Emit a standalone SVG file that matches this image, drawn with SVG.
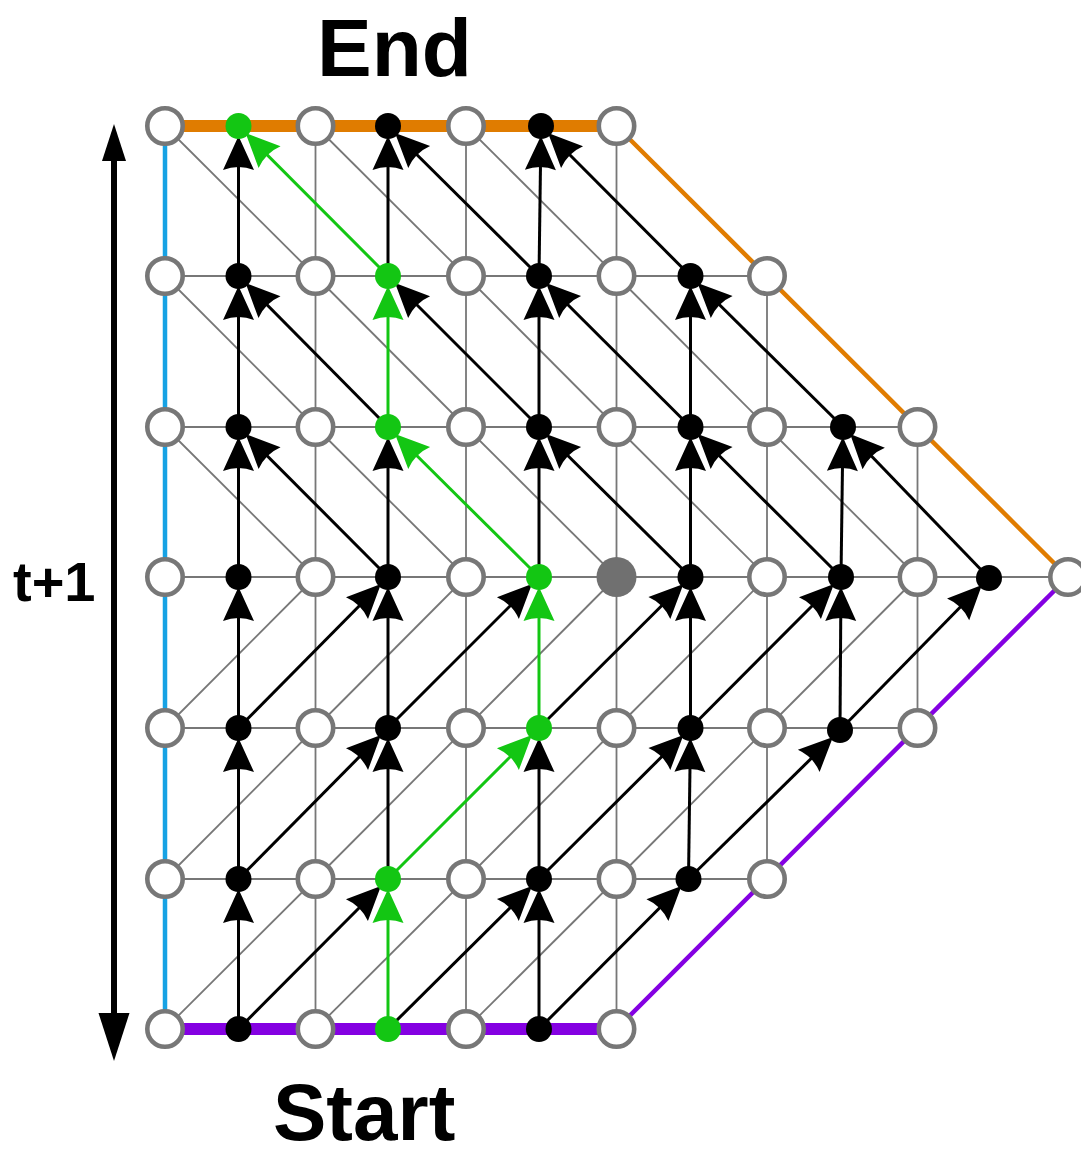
<svg xmlns="http://www.w3.org/2000/svg" width="1081" height="1158" viewBox="0 0 1081 1158">
<style>
.gr{stroke:#777;stroke-width:1.8;fill:none}
.a{stroke:#000;stroke-width:3;fill:none;marker-end:url(#ah)}
.ag{stroke:#13c613;stroke-width:3;fill:none;marker-end:url(#ahg)}
.o{fill:#fff;stroke:#777;stroke-width:4.6}
.b{fill:#000}
.gn{fill:#13c613}
.gy{fill:#707070}
.t{font-family:"Liberation Sans",Arial,sans-serif;font-weight:bold;fill:#000}
</style>
<defs>
<marker id="ah" viewBox="-32 -18 42 36" refX="0" refY="0" markerWidth="42" markerHeight="36" markerUnits="userSpaceOnUse" orient="auto" overflow="visible">
<path d="M-28,-15.5 L6,0 L-28,15.5" fill="none" stroke="#fff" stroke-width="3" stroke-linejoin="round"/>
<path d="M6,0 L-28,-15.5 Q-22,0 -28,15.5 Z" fill="#000"/>
</marker>
<marker id="ahg" viewBox="-32 -18 42 36" refX="0" refY="0" markerWidth="42" markerHeight="36" markerUnits="userSpaceOnUse" orient="auto" overflow="visible">
<path d="M-28,-15.5 L6,0 L-28,15.5" fill="none" stroke="#fff" stroke-width="3" stroke-linejoin="round"/>
<path d="M6,0 L-28,-15.5 Q-22,0 -28,15.5 Z" fill="#13c613"/>
</marker>
</defs>
<rect width="1081" height="1158" fill="#fff"/>

<g id="grid">
<line class="gr" x1="165" y1="276" x2="767" y2="276"/>
<line class="gr" x1="165" y1="427" x2="917.5" y2="427"/>
<line class="gr" x1="165" y1="577" x2="1068" y2="577"/>
<line class="gr" x1="165" y1="728" x2="917.5" y2="728"/>
<line class="gr" x1="165" y1="879" x2="767" y2="879"/>
<line class="gr" x1="315.5" y1="126" x2="315.5" y2="1029"/>
<line class="gr" x1="466" y1="126" x2="466" y2="1029"/>
<line class="gr" x1="616.5" y1="126" x2="616.5" y2="1029"/>
<line class="gr" x1="767" y1="276" x2="767" y2="879"/>
<line class="gr" x1="917.5" y1="427" x2="917.5" y2="728"/>
<line class="gr" x1="165" y1="126" x2="315.5" y2="276"/>
<line class="gr" x1="315.5" y1="126" x2="466" y2="276"/>
<line class="gr" x1="466" y1="126" x2="616.5" y2="276"/>
<line class="gr" x1="165" y1="276" x2="315.5" y2="427"/>
<line class="gr" x1="315.5" y1="276" x2="466" y2="427"/>
<line class="gr" x1="466" y1="276" x2="616.5" y2="427"/>
<line class="gr" x1="616.5" y1="276" x2="767" y2="427"/>
<line class="gr" x1="165" y1="427" x2="315.5" y2="577"/>
<line class="gr" x1="315.5" y1="427" x2="466" y2="577"/>
<line class="gr" x1="466" y1="427" x2="616.5" y2="577"/>
<line class="gr" x1="616.5" y1="427" x2="767" y2="577"/>
<line class="gr" x1="767" y1="427" x2="917.5" y2="577"/>
<line class="gr" x1="165" y1="728" x2="315.5" y2="577"/>
<line class="gr" x1="315.5" y1="728" x2="466" y2="577"/>
<line class="gr" x1="466" y1="728" x2="616.5" y2="577"/>
<line class="gr" x1="616.5" y1="728" x2="767" y2="577"/>
<line class="gr" x1="767" y1="728" x2="917.5" y2="577"/>
<line class="gr" x1="165" y1="879" x2="315.5" y2="728"/>
<line class="gr" x1="315.5" y1="879" x2="466" y2="728"/>
<line class="gr" x1="466" y1="879" x2="616.5" y2="728"/>
<line class="gr" x1="616.5" y1="879" x2="767" y2="728"/>
<line class="gr" x1="165" y1="1029" x2="315.5" y2="879"/>
<line class="gr" x1="315.5" y1="1029" x2="466" y2="879"/>
<line class="gr" x1="466" y1="1029" x2="616.5" y2="879"/>
</g>

<g id="boundaries">
<line x1="165" y1="126" x2="165" y2="1029" stroke="#16a2e4" stroke-width="4.5"/>
<line x1="165" y1="126" x2="616.5" y2="126" stroke="#e07c00" stroke-width="12"/>
<line x1="616.5" y1="126" x2="1068" y2="577" stroke="#e07c00" stroke-width="4.5"/>
<line x1="165" y1="1029" x2="616.5" y2="1029" stroke="#8400e2" stroke-width="12"/>
<line x1="616.5" y1="1029" x2="1068" y2="577" stroke="#8400e2" stroke-width="4.5"/>
</g>

<g id="connectors">
<line class="a" x1="238.5" y1="276" x2="238.5" y2="142"/>
<line class="a" x1="388" y1="276" x2="388" y2="142"/>
<line class="a" x1="539" y1="276" x2="540.8" y2="142"/>
<line class="a" x1="238.5" y1="427" x2="238.5" y2="292"/>
<line class="a" x1="539" y1="427" x2="539" y2="292"/>
<line class="a" x1="690.5" y1="427" x2="690.5" y2="292"/>
<line class="a" x1="238.5" y1="577" x2="238.5" y2="443"/>
<line class="a" x1="388" y1="577" x2="388" y2="443"/>
<line class="a" x1="539" y1="577" x2="539" y2="443"/>
<line class="a" x1="690.5" y1="577" x2="690.5" y2="443"/>
<line class="a" x1="841" y1="577" x2="842.8" y2="443"/>
<line class="a" x1="238.5" y1="728" x2="238.5" y2="593"/>
<line class="a" x1="388" y1="728" x2="388" y2="593"/>
<line class="a" x1="690.5" y1="728" x2="690.5" y2="593"/>
<line class="a" x1="840" y1="730" x2="840.9" y2="593"/>
<line class="a" x1="238.5" y1="879" x2="238.5" y2="744"/>
<line class="a" x1="388" y1="879" x2="388" y2="744"/>
<line class="a" x1="539" y1="879" x2="539" y2="744"/>
<line class="a" x1="688.5" y1="879" x2="690.3" y2="744"/>
<line class="a" x1="238.5" y1="1029" x2="238.5" y2="895"/>
<line class="a" x1="539" y1="1029" x2="539" y2="895"/>
<line class="a" x1="539" y1="276" x2="399.3" y2="137.3"/>
<line class="a" x1="690.5" y1="276" x2="552.3" y2="137.3"/>
<line class="a" x1="388" y1="427" x2="249.8" y2="287.3"/>
<line class="a" x1="539" y1="427" x2="399.3" y2="287.3"/>
<line class="a" x1="690.5" y1="427" x2="550.3" y2="287.3"/>
<line class="a" x1="843" y1="427" x2="701.8" y2="287.3"/>
<line class="a" x1="388" y1="577" x2="249.8" y2="438.3"/>
<line class="a" x1="690.5" y1="577" x2="550.3" y2="438.3"/>
<line class="a" x1="841" y1="577" x2="701.8" y2="438.3"/>
<line class="a" x1="989" y1="578" x2="854.3" y2="438.3"/>
<line class="a" x1="238.5" y1="728" x2="376.7" y2="588.3"/>
<line class="a" x1="388" y1="728" x2="527.7" y2="588.3"/>
<line class="a" x1="539" y1="728" x2="679.2" y2="588.3"/>
<line class="a" x1="690.5" y1="728" x2="829.7" y2="588.3"/>
<line class="a" x1="840" y1="730" x2="977.7" y2="589.3"/>
<line class="a" x1="238.5" y1="879" x2="376.7" y2="739.3"/>
<line class="a" x1="539" y1="879" x2="679.2" y2="739.3"/>
<line class="a" x1="688.5" y1="879" x2="828.7" y2="741.3"/>
<line class="a" x1="238.5" y1="1029" x2="376.7" y2="890.3"/>
<line class="a" x1="388" y1="1029" x2="527.7" y2="890.3"/>
<line class="a" x1="539" y1="1029" x2="677.2" y2="890.3"/>
<line class="ag" x1="388" y1="1029" x2="388" y2="895"/>
<line class="ag" x1="388" y1="879" x2="527.7" y2="739.3"/>
<line class="ag" x1="539" y1="728" x2="539" y2="593"/>
<line class="ag" x1="539" y1="577" x2="399.3" y2="438.3"/>
<line class="ag" x1="388" y1="427" x2="388" y2="292"/>
<line class="ag" x1="388" y1="276" x2="249.8" y2="137.3"/>
</g>

<g id="time-axis">
<line x1="114" y1="158" x2="114" y2="1016" stroke="#000" stroke-width="6"/>
<polygon points="114,124 126,161 102,161" fill="#000"/>
<polygon points="114,1061 129.5,1013 98.5,1013" fill="#000"/>
</g>

<g id="nodes">
<g id="n-r0c0"><circle class="o" cx="165" cy="126" r="17.7"/></g>
<g id="n-r0c1"><circle class="gn" cx="238.5" cy="126" r="13"/></g>
<g id="n-r0c2"><circle class="o" cx="315.5" cy="126" r="17.7"/></g>
<g id="n-r0c3"><circle class="b" cx="388" cy="126" r="13"/></g>
<g id="n-r0c4"><circle class="o" cx="466" cy="126" r="17.7"/></g>
<g id="n-r0c5"><circle class="b" cx="541" cy="126" r="13"/></g>
<g id="n-r0c6"><circle class="o" cx="616.5" cy="126" r="17.7"/></g>

<g id="n-r1c0"><circle class="o" cx="165" cy="276" r="17.7"/></g>
<g id="n-r1c1"><circle class="b" cx="238.5" cy="276" r="13"/></g>
<g id="n-r1c2"><circle class="o" cx="315.5" cy="276" r="17.7"/></g>
<g id="n-r1c3"><circle class="gn" cx="388" cy="276" r="13"/></g>
<g id="n-r1c4"><circle class="o" cx="466" cy="276" r="17.7"/></g>
<g id="n-r1c5"><circle class="b" cx="539" cy="276" r="13"/></g>
<g id="n-r1c6"><circle class="o" cx="616.5" cy="276" r="17.7"/></g>
<g id="n-r1c7"><circle class="b" cx="690.5" cy="276" r="13"/></g>
<g id="n-r1c8"><circle class="o" cx="767" cy="276" r="17.7"/></g>

<g id="n-r2c0"><circle class="o" cx="165" cy="427" r="17.7"/></g>
<g id="n-r2c1"><circle class="b" cx="238.5" cy="427" r="13"/></g>
<g id="n-r2c2"><circle class="o" cx="315.5" cy="427" r="17.7"/></g>
<g id="n-r2c3"><circle class="gn" cx="388" cy="427" r="13"/></g>
<g id="n-r2c4"><circle class="o" cx="466" cy="427" r="17.7"/></g>
<g id="n-r2c5"><circle class="b" cx="539" cy="427" r="13"/></g>
<g id="n-r2c6"><circle class="o" cx="616.5" cy="427" r="17.7"/></g>
<g id="n-r2c7"><circle class="b" cx="690.5" cy="427" r="13"/></g>
<g id="n-r2c8"><circle class="o" cx="767" cy="427" r="17.7"/></g>
<g id="n-r2c9"><circle class="b" cx="843" cy="427" r="13"/></g>
<g id="n-r2c10"><circle class="o" cx="917.5" cy="427" r="17.7"/></g>

<g id="n-r3c0"><circle class="o" cx="165" cy="577" r="17.7"/></g>
<g id="n-r3c1"><circle class="b" cx="238.5" cy="577" r="13"/></g>
<g id="n-r3c2"><circle class="o" cx="315.5" cy="577" r="17.7"/></g>
<g id="n-r3c3"><circle class="b" cx="388" cy="577" r="13"/></g>
<g id="n-r3c4"><circle class="o" cx="466" cy="577" r="17.7"/></g>
<g id="n-r3c5"><circle class="gn" cx="539" cy="577" r="13"/></g>
<g id="n-r3c6"><circle class="gy" cx="616.5" cy="577" r="20"/></g>
<g id="n-r3c7"><circle class="b" cx="690.5" cy="577" r="13"/></g>
<g id="n-r3c8"><circle class="o" cx="767" cy="577" r="17.7"/></g>
<g id="n-r3c9"><circle class="b" cx="841" cy="577" r="13"/></g>
<g id="n-r3c10"><circle class="o" cx="917.5" cy="577" r="17.7"/></g>
<g id="n-r3c11"><circle class="b" cx="989" cy="578" r="13"/></g>
<g id="n-r3c12"><circle class="o" cx="1068" cy="577" r="17.7"/></g>

<g id="n-r4c0"><circle class="o" cx="165" cy="728" r="17.7"/></g>
<g id="n-r4c1"><circle class="b" cx="238.5" cy="728" r="13"/></g>
<g id="n-r4c2"><circle class="o" cx="315.5" cy="728" r="17.7"/></g>
<g id="n-r4c3"><circle class="b" cx="388" cy="728" r="13"/></g>
<g id="n-r4c4"><circle class="o" cx="466" cy="728" r="17.7"/></g>
<g id="n-r4c5"><circle class="gn" cx="539" cy="728" r="13"/></g>
<g id="n-r4c6"><circle class="o" cx="616.5" cy="728" r="17.7"/></g>
<g id="n-r4c7"><circle class="b" cx="690.5" cy="728" r="13"/></g>
<g id="n-r4c8"><circle class="o" cx="767" cy="728" r="17.7"/></g>
<g id="n-r4c9"><circle class="b" cx="840" cy="730" r="13"/></g>
<g id="n-r4c10"><circle class="o" cx="917.5" cy="728" r="17.7"/></g>

<g id="n-r5c0"><circle class="o" cx="165" cy="879" r="17.7"/></g>
<g id="n-r5c1"><circle class="b" cx="238.5" cy="879" r="13"/></g>
<g id="n-r5c2"><circle class="o" cx="315.5" cy="879" r="17.7"/></g>
<g id="n-r5c3"><circle class="gn" cx="388" cy="879" r="13"/></g>
<g id="n-r5c4"><circle class="o" cx="466" cy="879" r="17.7"/></g>
<g id="n-r5c5"><circle class="b" cx="539" cy="879" r="13"/></g>
<g id="n-r5c6"><circle class="o" cx="616.5" cy="879" r="17.7"/></g>
<g id="n-r5c7"><circle class="b" cx="688.5" cy="879" r="13"/></g>
<g id="n-r5c8"><circle class="o" cx="767" cy="879" r="17.7"/></g>

<g id="n-r6c0"><circle class="o" cx="165" cy="1029" r="17.7"/></g>
<g id="n-r6c1"><circle class="b" cx="238.5" cy="1029" r="13"/></g>
<g id="n-r6c2"><circle class="o" cx="315.5" cy="1029" r="17.7"/></g>
<g id="n-r6c3"><circle class="gn" cx="388" cy="1029" r="13"/></g>
<g id="n-r6c4"><circle class="o" cx="466" cy="1029" r="17.7"/></g>
<g id="n-r6c5"><circle class="b" cx="539" cy="1029" r="13"/></g>
<g id="n-r6c6"><circle class="o" cx="616.5" cy="1029" r="17.7"/></g>
</g>

<g id="labels">
<text class="t" x="317" y="76" font-size="82">End</text>
<text class="t" x="273" y="1140" font-size="80">Start</text>
<text class="t" x="13" y="601" font-size="56">t+1</text>
</g>
</svg>
